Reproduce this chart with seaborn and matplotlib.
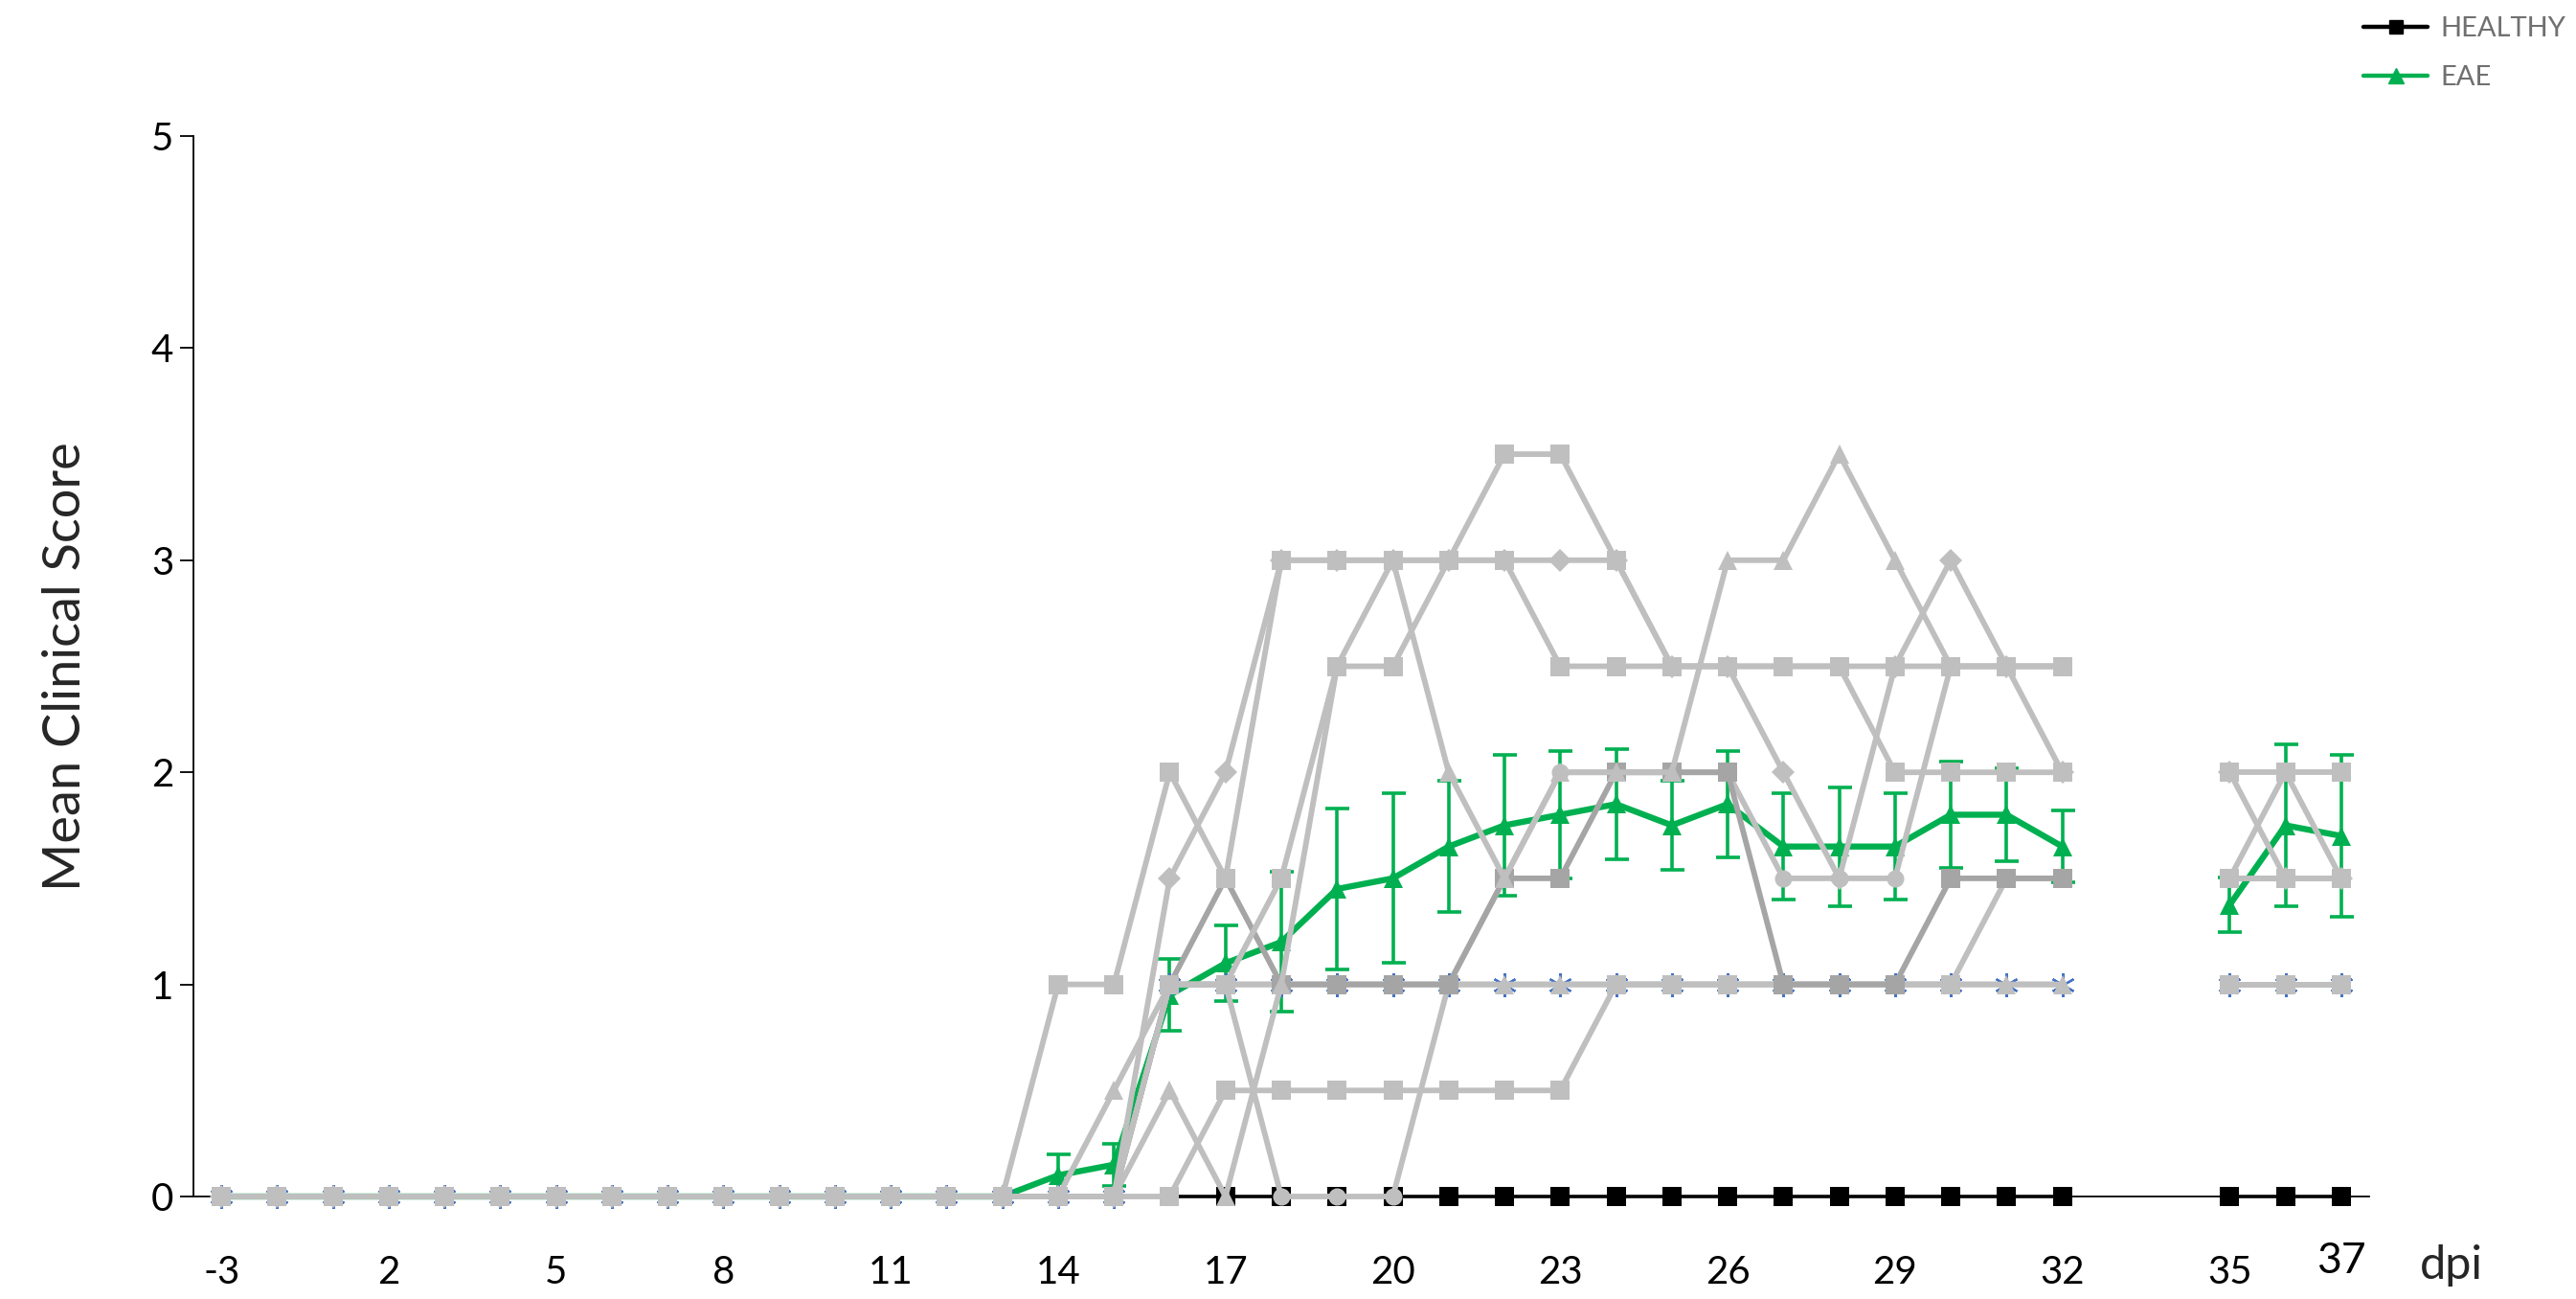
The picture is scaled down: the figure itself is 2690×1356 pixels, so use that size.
import numpy as np
import pandas as pd
import matplotlib
matplotlib.use("Agg")
import matplotlib.pyplot as plt
from matplotlib.lines import Line2D
from matplotlib.transforms import ScaledTranslation
import seaborn as sns

N = np.nan

# ---- categories (x axis is categorical, one slot per recorded day) ----
days = [-3, 0, 1, 2, 3, 4, 5, 6, 7, 8, 9, 10, 11, 12, 13, 14, 15, 16, 17, 18,
        19, 20, 21, 22, 23, 24, 25, 26, 27, 28, 29, 30, 31, 32, 33, 34, 35, 36, 37]
tick_days = [-3, 2, 5, 8, 11, 14, 17, 20, 23, 26, 29, 32, 35, 37]

# ---- individual EAE mice (grey traces) ----
mouse_1 = [0, 0, 0, 0, 0, 0, 0, 0, 0, 0, 0, 0, 0, 0,
           0, 1, 1, 2, 1.5, 3, 3, 3, 3, 3.5, 3.5, 3, 2.5, 2.5, 2.5, 2.5, 2, 2, 2, 2,
           N, N, 1.5, 1.5, 1.5]
mouse_2 = [0, 0, 0, 0, 0, 0, 0, 0, 0, 0, 0, 0, 0, 0,
           0, 0, 0.5, 1, 1, 1, 1, 1, 1, 1, 1, 1, 1, 1, 1, 1, 1, 1, 1, 1,
           N, N, 1, 1, 1]
mouse_3 = [0, 0, 0, 0, 0, 0, 0, 0, 0, 0, 0, 0, 0, 0,
           0, 0, 0, 1.5, 2, 3, 3, 3, 3, 3, 3, 3, 2.5, 2.5, 2, 1.5, 2.5, 3, 2.5, 2,
           N, N, 2, 1.5, 1.5]
mouse_4 = [0, 0, 0, 0, 0, 0, 0, 0, 0, 0, 0, 0, 0, 0,
           0, 0, 0, 1, 1, 1.5, 2.5, 2.5, 3, 3, 2.5, 2.5, 2.5, 2.5, 2.5, 2.5, 2.5, 2.5, 2.5, 2.5,
           N, N, 2, 2, 2]
mouse_5 = [0, 0, 0, 0, 0, 0, 0, 0, 0, 0, 0, 0, 0, 0,
           0, 0, 0, 0.5, 0, 1, 2.5, 3, 2, 1.5, 2, 2, 2, 3, 3, 3.5, 3, 2.5, 2.5, 2.5,
           N, N, 1.5, 2, 1.5]
mouse_6 = [0, 0, 0, 0, 0, 0, 0, 0, 0, 0, 0, 0, 0, 0,
           0, 0, 0, 1, 1, 0, 0, 0, 1, 1.5, 2, 2, 2, 2, 1.5, 1.5, 1.5, 2.5, 2.5, 2.5,
           N, N, 1, 1, 1]
mouse_7 = [0, 0, 0, 0, 0, 0, 0, 0, 0, 0, 0, 0, 0, 0,
           0, 0, 0, 0, 0.5, 0.5, 0.5, 0.5, 0.5, 0.5, 0.5, 1, 1, 1, 1, 1, 1, 1, 1.5, 1.5,
           N, N, 1, 1, 1]
mouse_8 = [0, 0, 0, 0, 0, 0, 0, 0, 0, 0, 0, 0, 0, 0,
           0, 0, 0, 1, 1, 1, 1, 1, 1, 1, 1, 1, 1, 1, 1, 1, 1, 1, 1, 1,
           N, N, 1, 1, 1]
mouse_9 = [0, 0, 0, 0, 0, 0, 0, 0, 0, 0, 0, 0, 0, 0,
           0, 0, 0, 1, 1.5, 1, 1, 1, 1, 1.5, 1.5, 2, 2, 2, 1, 1, 1, 1.5, 1.5, 1.5,
           N, N, 1.5, 1.5, 1.5]

# ---- group series ----
healthy = [0, 0, 0, 0, 0, 0, 0, 0, 0, 0, 0, 0, 0, 0, 0, 0, 0, 0, 0, 0,
           0, 0, 0, 0, 0, 0, 0, 0, 0, 0, 0, 0, 0, 0, N, N, 0, 0, 0]
eae_mean = [0, 0, 0, 0, 0, 0, 0, 0, 0, 0, 0, 0, 0, 0, 0,
            0.1, 0.15, 0.95, 1.1, 1.2, 1.45, 1.5, 1.65, 1.75, 1.8, 1.85, 1.75,
            1.85, 1.65, 1.65, 1.65, 1.8, 1.8, 1.65,
            N, N, 1.375, 1.75, 1.7]
eae_sem = [0, 0, 0, 0, 0, 0, 0, 0, 0, 0, 0, 0, 0, 0, 0,
           0.1, 0.1, 0.17, 0.18, 0.33, 0.38, 0.4, 0.31, 0.33, 0.3, 0.26, 0.21,
           0.25, 0.25, 0.28, 0.25, 0.25, 0.22, 0.17,
           N, N, 0.13, 0.38, 0.38]

mice = {"m8": mouse_8, "m2": mouse_2, "m7": mouse_7, "m6": mouse_6,
        "m9": mouse_9, "m5": mouse_5, "m4": mouse_4, "m3": mouse_3, "m1": mouse_1}


def frame(values, name):
    d = pd.DataFrame({"pos": np.arange(len(days)), "day": days,
                      "score": values, "series": name})
    d["seg"] = np.where(d["day"] <= 32, "a", "b")
    return d.dropna(subset=["score"])


sns.set_style("ticks")
plt.rcParams["font.family"] = ["Lato", "DejaVu Sans"]

W, H = 2690, 1356
fig = plt.figure(figsize=(W / 100, H / 100), dpi=100)
ax = fig.add_axes([202 / W, 107 / H, (2474 - 202) / W, (1249 - 142) / H])

GREY = "#BFBFBF"
DARK = "#A5A5A5"
GREEN = "#00B050"
ASTER = "#4472C4"

# healthy group (drawn underneath)
sns.lineplot(data=frame(healthy, "HEALTHY"), x="pos", y="score", units="seg",
             estimator=None, color="black", linewidth=2.6, marker="s",
             markersize=15, markeredgewidth=0, zorder=2, clip_on=False, ax=ax)

# EAE mean with SEM error bars
eae_df = frame(eae_mean, "EAE")
sns.lineplot(data=eae_df, x="pos", y="score", units="seg", estimator=None,
             color=GREEN, linewidth=4.6, marker="^", markersize=15,
             markeredgewidth=0, zorder=3, clip_on=False, ax=ax)
sem = pd.Series(eae_sem)
mask = sem.fillna(0) > 0
ax.errorbar(np.arange(len(days))[mask], np.array(eae_mean)[mask],
            yerr=sem[mask].values, fmt="none", ecolor=GREEN, elinewidth=2.6,
            capsize=9, capthick=2.6, zorder=3)

# individual mice
markers = {"m1": "s", "m2": "^", "m3": "D", "m4": "s", "m5": "^",
           "m6": "o", "m7": "s", "m8": (6, 2, 0), "m9": "s"}
z = 4
for name, vals in mice.items():
    col = DARK if name == "m9" else GREY
    mk = markers[name]
    kw = dict(markersize=15, markeredgewidth=0)
    if isinstance(mk, tuple):
        kw = dict(markersize=18, markeredgewidth=1.6, markeredgecolor=ASTER)
    elif mk == "o":
        kw = dict(markersize=13, markeredgewidth=0)
    elif mk == "D":
        kw = dict(markersize=12, markeredgewidth=0)
    sns.lineplot(data=frame(vals, name), x="pos", y="score", units="seg",
                 estimator=None, color=col, linewidth=4.2, marker=mk, zorder=z,
                 clip_on=False, ax=ax, **kw)
    z += 0.1

# axes styling
ax.set_xlim(-0.5, len(days) - 0.5)
ax.set_ylim(0, 5)
ax.set_xticks([days.index(d) for d in tick_days])
ax.set_xticklabels([str(d) for d in tick_days])
ax.set_yticks([0, 1, 2, 3, 4, 5])
ax.tick_params(axis="x", length=0, pad=44, labelsize=29, colors="black")
ax.tick_params(axis="y", length=10, width=1.3, pad=5, labelsize=29,
               colors="black", direction="out")
for s in ["top", "right"]:
    ax.spines[s].set_visible(False)
for s in ["left", "bottom"]:
    ax.spines[s].set_color("black")
    ax.spines[s].set_linewidth(1.3)
    ax.spines[s].set_zorder(2.5)
ax.set_xlabel("")
ax.set_ylabel("Mean Clinical Score", fontsize=39)
ax.yaxis.set_label_coords(-0.048, 0.5)
ax.grid(False)
if ax.get_legend() is not None:
    ax.get_legend().remove()

# "37" label sits a little higher and larger
lab37 = ax.get_xticklabels()[-1]
lab37.set_fontsize(32)
lab37.set_transform(lab37.get_transform() +
                    ScaledTranslation(0, 10 / 72, fig.dpi_scale_trans))

fig.text(2527 / W, 21 / H, "dpi", ha="left", va="baseline", fontsize=35)

handles = [Line2D([], [], color="black", lw=3.2, marker="s", markersize=10),
           Line2D([], [], color=GREEN, lw=3.2, marker="^", markersize=11)]
fig.legend(handles, ["HEALTHY", "EAE"], loc="upper left",
           bbox_to_anchor=(2468 / W, 1 - 17 / H), frameon=False, fontsize=21,
           labelcolor="#707070", handlelength=2.3, handletextpad=0.45,
           labelspacing=0.85, borderpad=0, borderaxespad=0)

fig.savefig("out.png", dpi=100)
